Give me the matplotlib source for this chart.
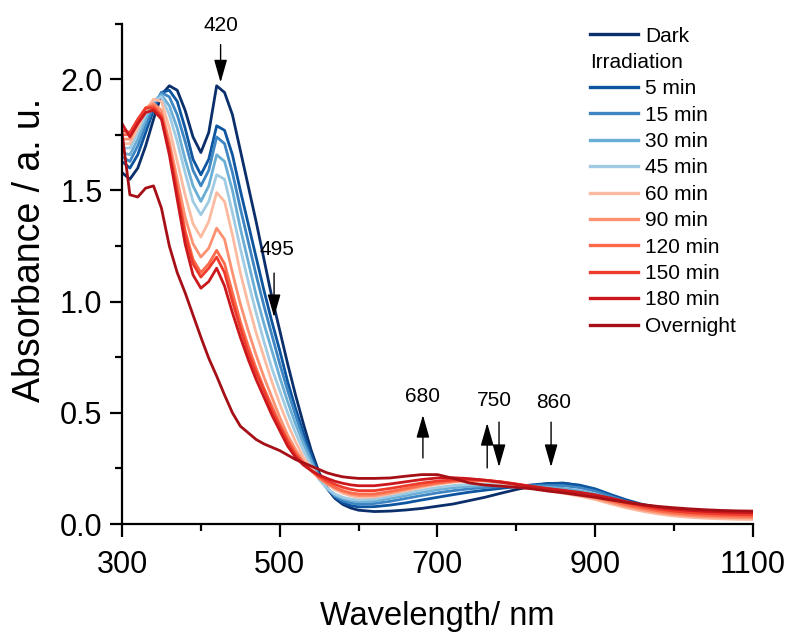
import matplotlib
matplotlib.use("Agg")
import matplotlib.pyplot as plt
from matplotlib.lines import Line2D
from matplotlib.ticker import FixedLocator, FormatStrFormatter, MultipleLocator

plt.rcParams["font.family"] = ["Liberation Sans", "DejaVu Sans"]

# Wavelength grid (nm)
wavelength = [300, 310, 320, 330, 340, 350, 360, 370, 380, 390, 400, 410, 420, 430,
              440, 450, 460, 470, 480, 490, 500, 510, 520, 530, 540, 550, 560, 570,
              580, 590, 600, 620, 640, 660, 680, 700, 720, 740, 760, 780, 800, 820,
              840, 860, 880, 900, 920, 940, 960, 980, 1000, 1020, 1040, 1060, 1080, 1100]

# Absorbance spectra
abs_dark = [1.58, 1.55, 1.60, 1.70, 1.82, 1.93, 1.97, 1.95, 1.86, 1.74, 1.67, 1.76, 1.97, 1.94,
            1.84, 1.68, 1.52, 1.36, 1.19, 1.02, 0.87, 0.72, 0.58, 0.45, 0.33, 0.23, 0.16, 0.115,
            0.088, 0.072, 0.062, 0.056, 0.058, 0.063, 0.070, 0.080, 0.090, 0.105, 0.120, 0.138,
            0.155, 0.170, 0.182, 0.184, 0.172, 0.153, 0.125, 0.103, 0.085, 0.073, 0.065, 0.060,
            0.056, 0.052, 0.050, 0.048]
abs_5min = [1.63, 1.60, 1.66, 1.76, 1.86, 1.94, 1.95, 1.90, 1.78, 1.64, 1.57, 1.64, 1.79, 1.77,
            1.66, 1.50, 1.35, 1.20, 1.05, 0.91, 0.78, 0.64, 0.52, 0.41, 0.31, 0.22, 0.16, 0.12,
            0.095, 0.083, 0.077, 0.078, 0.085, 0.095, 0.108, 0.120, 0.132, 0.143, 0.152, 0.160,
            0.168, 0.176, 0.182, 0.183, 0.175, 0.158, 0.132, 0.108, 0.088, 0.075, 0.066, 0.060,
            0.055, 0.051, 0.048, 0.046]
abs_15min = [1.65, 1.63, 1.70, 1.79, 1.88, 1.94, 1.92, 1.84, 1.72, 1.59, 1.52, 1.59, 1.74, 1.71,
             1.58, 1.42, 1.27, 1.12, 0.98, 0.85, 0.72, 0.60, 0.49, 0.38, 0.29, 0.21, 0.16, 0.125,
             0.105, 0.095, 0.088, 0.092, 0.102, 0.115, 0.128, 0.140, 0.150, 0.158, 0.164, 0.168,
             0.170, 0.172, 0.173, 0.172, 0.164, 0.148, 0.124, 0.100, 0.082, 0.070, 0.061, 0.055,
             0.050, 0.046, 0.043, 0.041]
abs_30min = [1.67, 1.66, 1.73, 1.82, 1.90, 1.93, 1.88, 1.78, 1.64, 1.52, 1.45, 1.52, 1.66, 1.63,
             1.50, 1.33, 1.18, 1.03, 0.90, 0.78, 0.66, 0.55, 0.45, 0.36, 0.28, 0.21, 0.16, 0.13,
             0.115, 0.105, 0.100, 0.103, 0.115, 0.128, 0.142, 0.154, 0.163, 0.169, 0.172, 0.173,
             0.171, 0.168, 0.165, 0.160, 0.150, 0.135, 0.113, 0.092, 0.075, 0.063, 0.054, 0.048,
             0.044, 0.040, 0.037, 0.035]
abs_45min = [1.69, 1.69, 1.76, 1.84, 1.90, 1.92, 1.84, 1.72, 1.58, 1.45, 1.39, 1.45, 1.57, 1.55,
             1.40, 1.24, 1.09, 0.95, 0.82, 0.70, 0.60, 0.50, 0.41, 0.33, 0.26, 0.20, 0.16, 0.135,
             0.120, 0.112, 0.108, 0.112, 0.125, 0.138, 0.152, 0.164, 0.173, 0.178, 0.179, 0.177,
             0.172, 0.165, 0.158, 0.150, 0.140, 0.125, 0.104, 0.084, 0.068, 0.056, 0.047, 0.041,
             0.037, 0.033, 0.030, 0.028]
abs_60min = [1.71, 1.71, 1.78, 1.86, 1.91, 1.90, 1.78, 1.63, 1.48, 1.35, 1.29, 1.36, 1.49, 1.45,
             1.30, 1.13, 0.99, 0.86, 0.75, 0.64, 0.54, 0.45, 0.37, 0.30, 0.25, 0.21, 0.18, 0.155,
             0.138, 0.127, 0.120, 0.122, 0.135, 0.150, 0.165, 0.178, 0.188, 0.193, 0.192, 0.185,
             0.175, 0.162, 0.150, 0.138, 0.125, 0.110, 0.090, 0.072, 0.057, 0.045, 0.036, 0.030,
             0.026, 0.023, 0.021, 0.020]
abs_90min = [1.73, 1.73, 1.80, 1.87, 1.89, 1.86, 1.72, 1.55, 1.38, 1.26, 1.20, 1.24, 1.33, 1.28,
             1.13, 0.99, 0.87, 0.76, 0.66, 0.57, 0.48, 0.40, 0.335, 0.28, 0.24, 0.205, 0.18, 0.16,
             0.145, 0.134, 0.128, 0.128, 0.140, 0.155, 0.170, 0.182, 0.191, 0.196, 0.195, 0.188,
             0.177, 0.165, 0.153, 0.142, 0.130, 0.116, 0.097, 0.079, 0.064, 0.052, 0.043, 0.037,
             0.033, 0.030, 0.028, 0.027]
abs_120min = [1.75, 1.75, 1.81, 1.87, 1.88, 1.84, 1.70, 1.51, 1.32, 1.19, 1.13, 1.17, 1.23, 1.17,
              1.04, 0.91, 0.80, 0.70, 0.61, 0.53, 0.45, 0.38, 0.32, 0.275, 0.24, 0.21, 0.185, 0.165,
              0.150, 0.140, 0.135, 0.135, 0.146, 0.160, 0.174, 0.185, 0.193, 0.197, 0.196, 0.190,
              0.179, 0.167, 0.156, 0.146, 0.135, 0.122, 0.104, 0.086, 0.071, 0.059, 0.050, 0.044,
              0.040, 0.037, 0.035, 0.034]
abs_150min = [1.77, 1.76, 1.82, 1.87, 1.87, 1.83, 1.68, 1.49, 1.30, 1.17, 1.11, 1.15, 1.20, 1.13,
              1.00, 0.88, 0.77, 0.68, 0.60, 0.51, 0.44, 0.37, 0.31, 0.27, 0.24, 0.215, 0.195, 0.178,
              0.165, 0.156, 0.150, 0.150, 0.160, 0.172, 0.184, 0.193, 0.198, 0.200, 0.197, 0.190,
              0.180, 0.169, 0.159, 0.150, 0.140, 0.128, 0.111, 0.094, 0.079, 0.067, 0.058, 0.052,
              0.048, 0.045, 0.043, 0.042]
abs_180min = [1.80, 1.74, 1.80, 1.85, 1.86, 1.82, 1.66, 1.46, 1.26, 1.12, 1.06, 1.09, 1.15, 1.07,
              0.95, 0.84, 0.74, 0.65, 0.57, 0.49, 0.42, 0.35, 0.30, 0.265, 0.24, 0.22, 0.205, 0.192,
              0.183, 0.176, 0.172, 0.172, 0.180, 0.190, 0.200, 0.207, 0.208, 0.204, 0.197, 0.188,
              0.178, 0.168, 0.159, 0.151, 0.142, 0.131, 0.116, 0.100, 0.086, 0.075, 0.067, 0.061,
              0.057, 0.054, 0.052, 0.051]
abs_overnight = [1.76, 1.48, 1.47, 1.51, 1.52, 1.42, 1.25, 1.13, 1.04, 0.94, 0.84, 0.745, 0.665, 0.58,
                 0.50, 0.44, 0.41, 0.38, 0.36, 0.345, 0.33, 0.31, 0.29, 0.275, 0.26, 0.245, 0.23, 0.22,
                 0.212, 0.208, 0.205, 0.205, 0.207, 0.215, 0.222, 0.222, 0.205, 0.185, 0.175, 0.170,
                 0.165, 0.158, 0.148, 0.140, 0.130, 0.120, 0.108, 0.097, 0.087, 0.079, 0.073, 0.068,
                 0.064, 0.061, 0.059, 0.058]

series_labels = ["Dark", "5 min", "15 min", "30 min", "45 min", "60 min", "90 min",
                 "120 min", "150 min", "180 min", "Overnight"]
series_values = [abs_dark, abs_5min, abs_15min, abs_30min, abs_45min, abs_60min, abs_90min,
                 abs_120min, abs_150min, abs_180min, abs_overnight]
series_colors = ["#0b2f6b", "#0d559f", "#3d85c3", "#6aaed6", "#a0cbe2", "#fcbba1", "#fc9272",
                 "#fb6a4a", "#ef3b2c", "#cb181d", "#a50f15"]

x_ticks = [300, 500, 700, 900, 1100]
x_minor = [400, 600, 800, 1000]

# Peak markers: label, label position, arrows (x, tail, head)
peak_labels = ["420", "495", "680", "750", "860"]
label_pos = [(425.5, 2.24), (496.5, 1.235), (681.5, 0.575), (772, 0.557), (847.5, 0.544)]
arrows = [(425, 2.155, 1.985), (492.8, 1.128, 0.93), (681.5, 0.297, 0.49),
          (763, 0.252, 0.454), (778, 0.458, 0.256), (844, 0.458, 0.256)]

W, H = 791, 633
fig = plt.figure(figsize=(W / 100, H / 100), dpi=100)
ax = fig.add_axes([122 / W, 1 - 524 / H, (753 - 122) / W, (524 - 23.5) / H])

lines = []
for lab, vals, col in zip(series_labels, series_values, series_colors):
    ln, = ax.plot(wavelength, vals, color=col, lw=2.0, label=lab)
    lines.append(ln)

ax.set_xlim(300, 1100)
ax.set_ylim(0, 2.25)
ax.xaxis.set_major_locator(FixedLocator(x_ticks))
ax.xaxis.set_minor_locator(FixedLocator(x_minor))
ax.yaxis.set_major_locator(MultipleLocator(0.5))
ax.yaxis.set_minor_locator(MultipleLocator(0.25))
ax.yaxis.set_major_formatter(FormatStrFormatter("%.1f"))
for s in ("top", "right"):
    ax.spines[s].set_visible(False)
for s in ("left", "bottom"):
    ax.spines[s].set_linewidth(1.6)
ax.tick_params(which="major", length=9, width=1.6, labelsize=22, direction="out")
ax.tick_params(which="minor", length=5, width=1.6, direction="out")
ax.tick_params(axis="x", which="major", pad=10)
ax.tick_params(axis="y", which="major", pad=5)
ax.set_xlabel("Wavelength/ nm", fontsize=23.5, labelpad=15)
ax.set_ylabel("Absorbance / a. u.", fontsize=27)
ax.yaxis.set_label_coords(-0.118, 0.547)

for txt, (tx, ty) in zip(peak_labels, label_pos):
    ax.text(tx, ty, txt, fontsize=15, ha="center", va="center", clip_on=False)
for x, y0, y1 in arrows:
    ax.annotate("", xy=(x, y1), xytext=(x, y0), annotation_clip=False,
                arrowprops=dict(arrowstyle="-|>,head_length=0.7,head_width=0.2",
                                mutation_scale=20, lw=1.0, color="black",
                                shrinkA=0, shrinkB=0))

# Legend with an "Irradiation" header row
blank = Line2D([], [], color="none")
handles = [lines[0], blank] + lines[1:]
labels = [series_labels[0], "Irradiation"] + series_labels[1:]
fs = 15
hl, htp = 2.3, 0.34
leg = ax.legend(handles, labels, loc="upper left", bbox_to_anchor=(590 / W, 1 - 26.5 / H),
                bbox_transform=fig.transFigure, frameon=False, fontsize=fs,
                handlelength=hl, handletextpad=htp, borderpad=0, borderaxespad=0,
                labelspacing=0.355)
for h in leg.legend_handles:
    h.set_linewidth(2.4)
leg.get_texts()[1].set_x(-(hl + htp) * fs * 100 / 72)

fig.savefig("out.png", dpi=100)
